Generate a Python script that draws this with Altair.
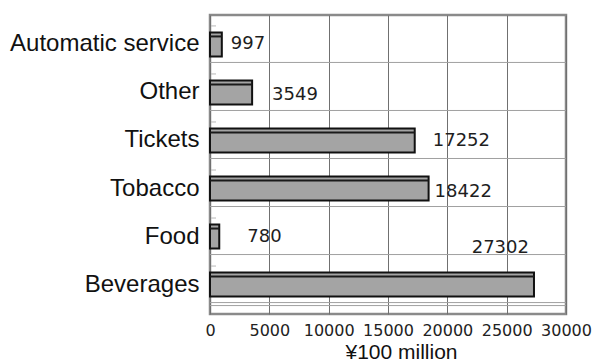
import altair as alt
import pandas as pd

categories = ["Automatic service", "Other", "Tickets", "Tobacco", "Food", "Beverages"]
values = [997, 3549, 17252, 18422, 780, 27302]
x_ticks = [0, 5000, 10000, 15000, 20000, 25000, 30000]

df = pd.DataFrame({"cat": categories, "val": values})

W, H = 356, 299
FONT = "Liberation Sans"
NUMFONT = "DejaVu Sans"

yscale = alt.Scale(domain=categories, paddingInner=0.5, paddingOuter=0.363)
xscale = alt.Scale(domain=[0, 30000], nice=False, zero=True)

yenc = alt.Y("cat:N", sort=categories, scale=yscale,
             axis=alt.Axis(title=None, ticks=False, domain=False, grid=False,
                           labelFont=FONT, labelFontSize=24, labelColor="#111",
                           labelPadding=11, labelLimit=300))
xenc = alt.X("val:Q", scale=xscale,
             axis=alt.Axis(values=x_ticks, title="¥100 million", grid=True,
                           gridColor="#707070", gridWidth=1, ticks=False, domain=False,
                           labelFont=NUMFONT, labelFontSize=16, labelColor="#222",
                           labelPadding=8, labelFlush=False, labelOverlap=False,
                           labelBound=False, format="d",
                           titleFont=FONT, titleFontSize=21, titleFontWeight="normal",
                           titleColor="#111", titleX=191, titleY=27))

base = alt.Chart(df)

hgrid = base.mark_rule(color="#a0a0a0", strokeWidth=1, yOffset=6).encode(
    y=alt.Y("cat:N", sort=categories, scale=yscale, bandPosition=1),
    x=alt.X(datum=0, scale=xscale),
    x2=alt.X2(datum=30000),
)

hgrid2 = base.transform_filter(alt.datum.cat == "Beverages").mark_rule(
    color="#a0a0a0", strokeWidth=1, yOffset=9).encode(
    y=alt.Y("cat:N", sort=categories, scale=yscale, bandPosition=1),
    x=alt.X(datum=0, scale=xscale),
    x2=alt.X2(datum=30000),
)

small_ticks = base.mark_rule(color="#b8b8b8", strokeWidth=1, yOffset=-6.5).encode(
    y=alt.Y("cat:N", sort=categories, scale=yscale, bandPosition=0),
    x=alt.value(1), x2=alt.value(6),
)

bars = base.mark_bar(fill="#a4a4a4", stroke="#111", strokeWidth=2).encode(
    y=yenc, x=xenc)

stripe = base.mark_bar(height=2, yOffset=-8, color="#1a1a1a").encode(
    y=alt.Y("cat:N", sort=categories, scale=yscale),
    x=alt.X("val:Q", scale=xscale),
)

label_style = [
    ("Automatic service", 9, 0, "left"),
    ("Other", 20, 3, "left"),
    ("Tickets", 18, 1, "left"),
    ("Tobacco", 6, 3, "left"),
    ("Food", 28, 0, "left"),
    ("Beverages", -5, -37, "right"),
]
texts = []
for c, dx, dy, al in label_style:
    texts.append(
        base.transform_filter(alt.datum.cat == c).mark_text(
            font=NUMFONT, fontSize=18, color="#1e1e1e",
            align=al, baseline="middle", dx=dx, dy=dy,
        ).encode(
            y=alt.Y("cat:N", sort=categories, scale=yscale),
            x=alt.X("val:Q", scale=xscale),
            text=alt.Text("val:Q", format="d"),
        )
    )

chart = alt.layer(hgrid, hgrid2, small_ticks, bars, stripe, *texts).properties(
    width=W, height=H,
    autosize=alt.AutoSizeParams(type="none"),
    padding={"left": 210, "top": 15, "right": 28, "bottom": 49},
    background="white",
).configure_view(stroke="#8a8a8a", strokeWidth=2.5)

chart.save("out.html", embed_options={"renderer": "svg", "actions": False})
